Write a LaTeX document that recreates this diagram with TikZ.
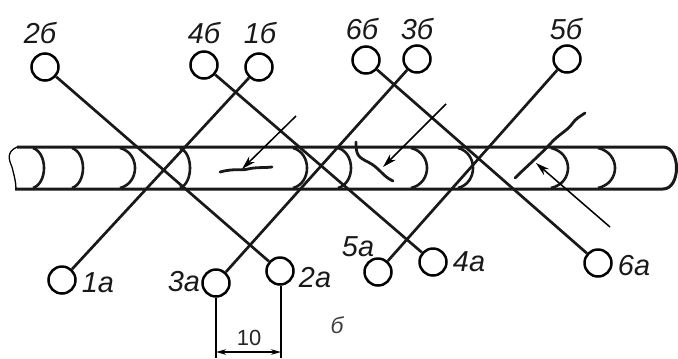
\documentclass[tikz,border=0pt]{standalone}
\usepackage{fontspec}
\setmainfont{Liberation Sans}
\usetikzlibrary{arrows.meta}
\tikzset{
  pad/.style={circle,draw,line width=2.5bp,minimum size=27bp,inner sep=0pt,fill=none},
  lbl/.style={font=\fontsize{29}{29}\selectfont\itshape,inner sep=0pt,text=black!90},
  rod/.style={line width=2.7bp,black!90},
  pipe/.style={line width=3bp,black!90},
  weld/.style={line width=2.6bp,black!90},
  defect/.style={line width=2.8bp,line cap=round,black!90},
  ptr/.style={line width=1.5bp,-{Stealth[length=14bp,width=8bp]}},
  dimn/.style={line width=1.5bp},
  dimarr/.style={line width=1.4bp,{Stealth[length=10bp,width=5.5bp]}-{Stealth[length=10bp,width=5.5bp]}}
}
\begin{document}
\begin{tikzpicture}[x=1bp,y=-1bp]
\useasboundingbox (0,0) rectangle (678,358);
% pipe
\draw[pipe] (17,147) -- (663,147) .. controls (681,147) and (681,189) .. (663,189) -- (15,189);
\draw[line width=1.3bp] (17,147) .. controls (6,152) and (9,160) .. (12,167) .. controls (14,175) and (16,182) .. (16,189);
% welds
\foreach \a/\b in {33/44,72/83,120/135,180/190,293/307,338/351,411/427,458/473,551/568,598/615}
  \draw[weld] (\a,148) .. controls ({\a+(\b-\a)*4/3},153) and ({\a+(\b-\a)*4/3},183) .. (\a,188);
% pads
\node[pad] (b2) at (45,67) {};
\node[pad] (b4) at (204,65) {};
\node[pad] (b1) at (259,67) {};
\node[pad] (b6) at (366,60) {};
\node[pad] (b3) at (417,59) {};
\node[pad] (b5) at (567,59) {};
\node[pad] (a1) at (62,280) {};
\node[pad] (a3) at (216,283) {};
\node[pad] (a2) at (280,271) {};
\node[pad] (a5) at (378,272) {};
\node[pad] (a4) at (433,262) {};
\node[pad] (a6) at (598,263) {};
% rods
\foreach \p/\q in {b2/a2,b4/a4,b6/a6,a1/b1,a3/b3,a5/b5}
  \draw[rod] (\p) -- (\q);
% labels
\node[lbl] (t2b) at (40,33) {2б};
\node[lbl] (t4b) at (204,33) {4б};
\node[lbl] (t1b) at (260,33) {1б};
\node[lbl] (t6b) at (362,29) {6б};
\node[lbl] (t3b) at (417,29) {3б};
\node[lbl] (t5b) at (566,29) {5б};
\node[lbl] (t1a) at (98,283) {1а};
\node[lbl] (t3a) at (184,282) {3а};
\node[lbl] (t2a) at (315,278) {2а};
\node[lbl] (t5a) at (358,247) {5а};
\node[lbl] (t4a) at (469,262) {4а};
\node[lbl] (t6a) at (634,266) {6а};
\node[font=\fontsize{23}{23}\selectfont\itshape,inner sep=0pt,text=black!75] (tb) at (337,325) {б};
% defects
\draw[defect] (220,172) .. controls (235,168) and (240,171) .. (248,169) .. controls (256,167) and (264,168) .. (272,167);
\draw[defect] (356,142) .. controls (356,155) and (358,157) .. (368,162) .. controls (380,168) and (382,176) .. (393,181);
\draw[defect] (515,178) .. controls (525,168) and (540,155) .. (551,143) .. controls (558,135) and (568,130) .. (572,124) .. controls (576,118) and (581,116) .. (585,113);
% pointers
\coordinate (p1s) at (296,116); \coordinate (p1e) at (242,169);
\coordinate (p2s) at (446,104); \coordinate (p2e) at (383,167);
\coordinate (p3s) at (610,227); \coordinate (p3e) at (536,163);
\draw[ptr] (p1s) -- (p1e);
\draw[ptr] (p2s) -- (p2e);
\draw[ptr] (p3s) -- (p3e);
% dimension
\coordinate (d1) at (216,358); \coordinate (d2) at (281,358);
\coordinate (d3) at (216,352); \coordinate (d4) at (281,352);
\draw[dimn] (a3) -- (d1);
\draw[dimn] (a2.south) ++(1,0) -- (d2);
\draw[dimarr] (d3) -- (d4);
\node[font=\fontsize{22}{22}\selectfont,inner sep=0pt,text=black!85] (t10) at (249,338) {10};
\end{tikzpicture}
\end{document}
